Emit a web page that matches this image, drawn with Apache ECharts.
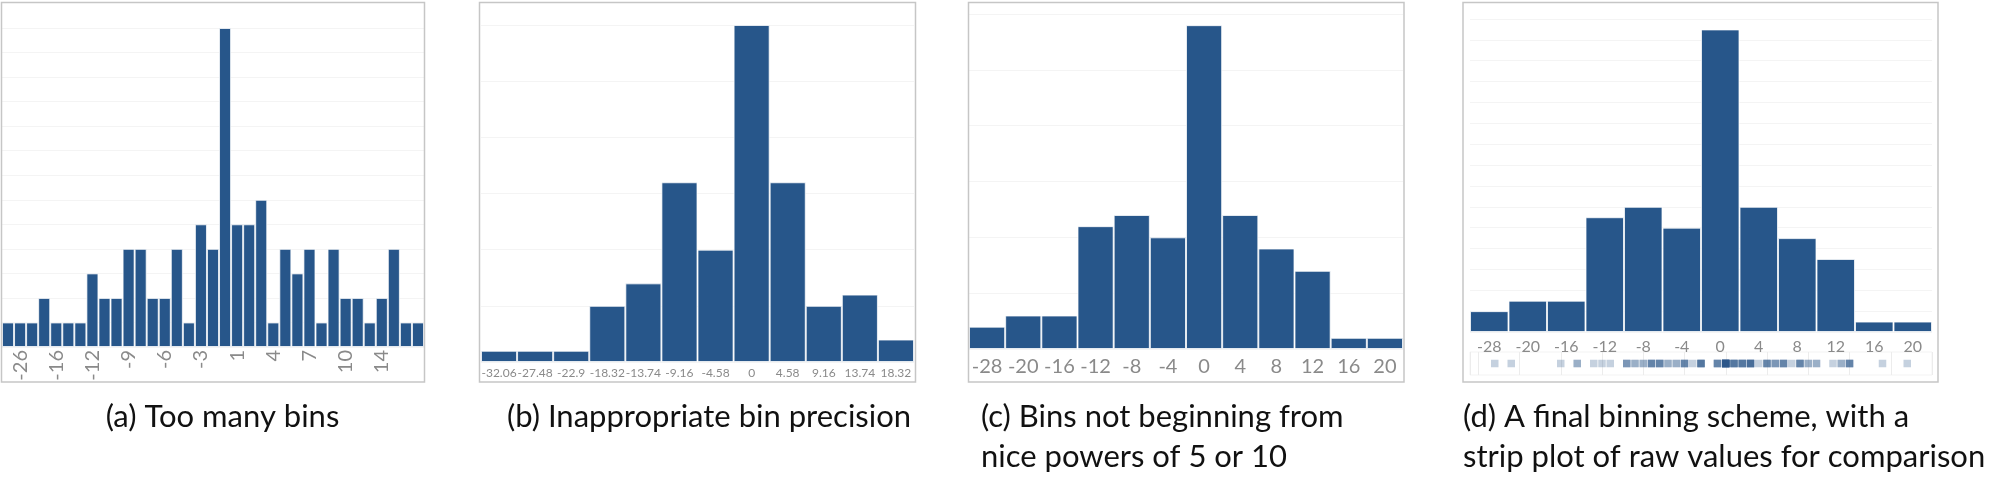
<!DOCTYPE html>
<html>
<head>
<meta charset="utf-8">
<script src="https://cdn.jsdelivr.net/npm/echarts@6/dist/echarts.min.js"></script>
<style>
html,body{margin:0;padding:0;background:#fff;}
#c{width:2000px;height:499px;}
</style>
</head>
<body>
<div id="c"></div>
<script>
// (a) 35 narrow bins: bin values and counts
const binsA = [-28,-26,-20,-18,-16,-15,-14,-12,-11,-10,-9,-8,-7,-6,-5,-4,-3,-1,0,1,2,3,4,5,6,7,8,9,10,11,13,14,15,19,22];
const countsA = [1,1,1,2,1,1,1,3,2,2,4,4,2,2,4,1,5,4,13,5,5,6,1,4,3,4,1,4,2,2,1,2,4,1,1];
// tick labels shown under panel (a)
const tickLabelsA = ['-26','-16','-12','-9','-6','-3','1','4','7','10','14'];
// (b) bins of width 4.58
const catsB = ['-32.06','-27.48','-22.9','-18.32','-13.74','-9.16','-4.58','0','4.58','9.16','13.74','18.32'];
const countsB = [1,1,1,5,7,16,10,30,16,5,6,2];
// (c) bins of width 4
const catsC = ['-28','-20','-16','-12','-8','-4','0','4','8','12','16','20'];
const countsC = [2,3,3,11,12,10,29,12,9,7,1,1];
// (d) final binning
const catsD = ['-28','-20','-16','-12','-8','-4','0','4','8','12','16','20'];
const countsD = [2,3,3,11,12,10,29,12,9,7,1,1];
// strip plot raw values (distinct values and how many times each occurs)
const stripValues = [-28,-26,-20,-18,-16,-15,-14,-12,-11,-10,-9,-8,-7,-6,-5,-4,-3,-1,0,1,2,3,4,5,6,7,8,9,10,11,13,14,15,19,22];
const stripCounts = [1,1,1,2,1,1,1,3,2,2,4,4,2,2,4,1,5,4,13,5,5,6,1,4,3,4,1,4,2,2,1,2,4,1,1];
const captions = ['(a) Too many bins', '(b) Inappropriate bin precision',
  '(c) Bins not beginning from\nnice powers of 5 or 10',
  '(d) A final binning scheme, with a\nstrip plot of raw values for comparison'];

const BAR = '#27568a';
const GRIDC = '#f4f4f4';
const LBL = '#8a8a8a';
const FONT = 'Lato, "Open Sans", sans-serif';

const chart = echarts.init(document.getElementById('c'), null, {renderer: 'canvas'});

const stripData = [];
stripValues.forEach((v, i) => { for (let k = 0; k < stripCounts[i]; k++) stripData.push([v, 0]); });

function barSeries(idx, data) {
  return {
    type: 'bar', xAxisIndex: idx, yAxisIndex: idx, data: data,
    barCategoryGap: '0%', silent: true,
    itemStyle: {color: BAR, borderColor: 'rgba(255,255,255,0.75)', borderWidth: 1}
  };
}
function catAxis(idx, data, label) {
  return {
    type: 'category', gridIndex: idx, data: data,
    axisLine: {show: false}, axisTick: {show: false}, splitLine: {show: false},
    axisLabel: Object.assign({color: LBL, fontFamily: FONT}, label)
  };
}
function valAxis(idx, max, interval) {
  return {
    type: 'value', gridIndex: idx, min: 0, max: max, interval: interval,
    axisLine: {show: false}, axisTick: {show: false}, axisLabel: {show: false},
    splitLine: {show: true, lineStyle: {color: GRIDC, width: 1}}
  };
}

const frames = [
  [1.5, 2.5, 423, 379.5],
  [479.5, 2.5, 436, 379.5],
  [968.5, 2.5, 435.5, 379.5],
  [1463, 2.5, 475, 379.5]
];

const graphics = frames.map(f => ({
  type: 'rect', shape: {x: f[0], y: f[1], width: f[2], height: f[3]},
  style: {fill: 'none', stroke: '#c6c6c6', lineWidth: 1.5}, z: 10, silent: true
}));
const capStyle = {font: '31px ' + FONT, fill: '#111', textVerticalAlign: 'middle', lineHeight: 40};
graphics.push({type: 'text', x: 222.5, y: 417, style: Object.assign({text: captions[0], textAlign: 'center'}, capStyle)});
graphics.push({type: 'text', x: 709, y: 417, style: Object.assign({text: captions[1], textAlign: 'center'}, capStyle)});
graphics.push({type: 'text', x: 981, y: 437, style: Object.assign({text: captions[2], textAlign: 'left'}, capStyle)});
graphics.push({type: 'text', x: 1463, y: 437, style: Object.assign({text: captions[3], textAlign: 'left'}, capStyle)});

// labels for (a): tick labels placed on every third bin, starting with the second
const labelsA = binsA.map((b, i) => (i % 3 === 1 && (i - 1) / 3 < tickLabelsA.length) ? tickLabelsA[(i - 1) / 3] : '');

const option = {
  animation: false,
  backgroundColor: '#fff',
  grid: [
    {left: 2, top: 28, width: 422, height: 319},
    {left: 481, top: 25, width: 433, height: 337},
    {left: 969, top: 14, width: 434, height: 335},
    {left: 1470, top: 19, width: 462, height: 313},
    {left: 1470, top: 352, width: 462, height: 23, show: true, borderColor: '#f3f3f3', borderWidth: 1}
  ],
  xAxis: [
    catAxis(0, labelsA, {fontSize: 20, rotate: 90, margin: 3, interval: 0}),
    catAxis(1, catsB, {fontSize: 12, margin: 5, interval: 0}),
    catAxis(2, catsC, {fontSize: 20, margin: 8, interval: 0}),
    catAxis(3, catsD, {fontSize: 16, margin: 7, interval: 0}),
    {type: 'value', gridIndex: 4, min: -31, max: 25, splitNumber: 11,
     axisLine: {show: false}, axisTick: {show: false}, axisLabel: {show: false},
     splitLine: {show: true, lineStyle: {color: '#ececec', width: 1}}}
  ],
  yAxis: [
    valAxis(0, 13, 1),
    valAxis(1, 30, 5),
    valAxis(2, 30, 5),
    valAxis(3, 30, 2),
    {type: 'value', gridIndex: 4, min: -1, max: 1, show: false}
  ],
  series: [
    barSeries(0, countsA),
    barSeries(1, countsB),
    barSeries(2, countsC),
    barSeries(3, countsD),
    {type: 'scatter', xAxisIndex: 4, yAxisIndex: 4, data: stripData, symbol: 'rect', symbolSize: 7.5,
     silent: true, itemStyle: {color: BAR, opacity: 0.27}}
  ],
  graphic: graphics
};
chart.setOption(option);
</script>
</body>
</html>
